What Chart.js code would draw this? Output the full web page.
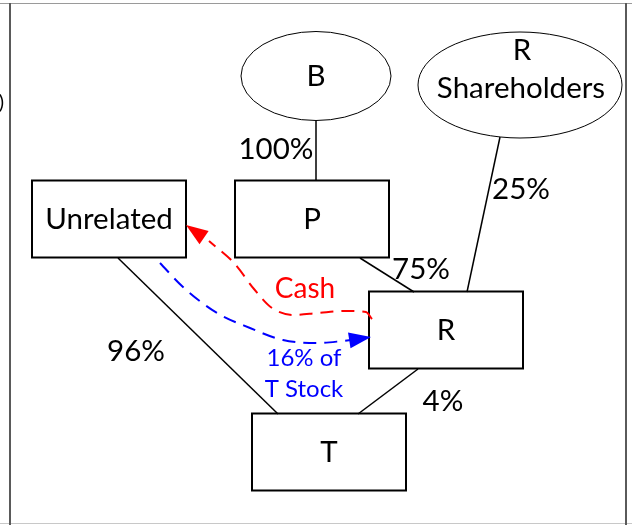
<!DOCTYPE html>
<html>
<head>
<meta charset="utf-8">
<script src="https://cdn.jsdelivr.net/npm/chart.js@4/dist/chart.umd.min.js"></script>
<style>
    html, body { margin: 0; padding: 0; background: #fff; }
    #wrap { width: 632px; height: 525px; }
</style>
</head>
<body>
<div id="wrap"><canvas id="diagram"></canvas></div>
<script>
// entities in the structure, centre of each shape (diagram units = pixels of the original)
const nodeNames = ['B', 'R\nShareholders', 'Unrelated', 'P', 'R', 'T'];
const nodeShape = ['ellipse', 'ellipse', 'box', 'box', 'box', 'box'];
const nodeX = [316, 520, 109, 312, 446, 329];
const nodeY = [76, 85, 219, 219, 330, 452];

// ownership lines: [x1, y1, x2, y2]
const ownLines = [
    [316, 121, 316, 181],   // B -> P
    [500, 137, 467, 292],   // R Shareholders -> R
    [360, 258, 414, 292],   // P -> R
    [118, 258, 278, 414],   // Unrelated -> T
    [418, 369, 358, 414]    // R -> T
];
const ownPct = ['100%', '25%', '75%', '96%', '4%'];
const pctX = [276, 521, 421, 136, 443];
const pctY = [159, 199, 279, 361, 411];

// exchange flows
const cashX = [372, 366, 345, 318, 294, 272, 254, 234, 209, 186];
const cashY = [319, 312, 311, 313, 315, 308, 289, 263, 241, 225];
const stockX = [160, 183, 217, 250, 283, 317, 343, 352, 371];
const stockY = [263, 287, 313, 328, 340, 343, 341, 340, 337];
const cashLabel = ['Cash'];
const stockLabel = ['16% of', 'T Stock'];

const FONT = 'Lato, "Open Sans", sans-serif';

function pts(xs, ys) {
    return xs.map((x, i) => ({ x: x, y: ys[i] }));
}

const datasets = [];
ownLines.forEach(l => {
    datasets.push({
        data: [{ x: l[0], y: l[1] }, { x: l[2], y: l[3] }],
        showLine: true,
        borderColor: '#000',
        borderWidth: 1.5,
        pointRadius: 0
    });
});
datasets.push({
    data: pts(cashX.slice(0, -1), cashY.slice(0, -1)),
    showLine: true,
    borderColor: '#ff0000',
    borderWidth: 2,
    borderDash: [13, 8],
    cubicInterpolationMode: 'monotone',
    pointRadius: 0,
    arrowTip: { x: cashX[cashX.length - 1], y: cashY[cashY.length - 1] }
});
datasets.push({
    data: pts(stockX.slice(0, -1), stockY.slice(0, -1)),
    showLine: true,
    borderColor: '#0000ff',
    borderWidth: 2,
    borderDash: [13, 8],
    cubicInterpolationMode: 'monotone',
    pointRadius: 0,
    arrowTip: { x: stockX[stockX.length - 1], y: stockY[stockY.length - 1] }
});

const diagramPlugin = {
    id: 'diagram',
    beforeDatasetsDraw(chart) {
        const ctx = chart.ctx;
        const sx = chart.scales.x, sy = chart.scales.y;
        const px = v => sx.getPixelForValue(v);
        const py = v => sy.getPixelForValue(v);
        ctx.save();

        // page frame
        ctx.lineWidth = 1;
        ctx.strokeStyle = '#9a9a9a';
        ctx.beginPath();
        ctx.moveTo(px(0), py(3.5)); ctx.lineTo(px(632), py(3.5));
        ctx.stroke();
        ctx.strokeStyle = '#c8c8c8';
        ctx.beginPath();
        ctx.moveTo(px(0), py(523.5)); ctx.lineTo(px(632), py(523.5));
        ctx.stroke();
        ctx.strokeStyle = '#5a5a5a';
        ctx.lineWidth = 2;
        ctx.beginPath();
        ctx.moveTo(px(10), py(3)); ctx.lineTo(px(10), py(525));
        ctx.moveTo(px(626), py(3)); ctx.lineTo(px(626), py(525));
        ctx.stroke();
        ctx.fillStyle = '#000';
        ctx.font = '20px ' + FONT;
        ctx.textAlign = 'right';
        ctx.fillText(')', px(4), py(109));

        // shapes
        nodeNames.forEach((name, i) => {
            const cx = px(nodeX[i]), cy = py(nodeY[i]);
            ctx.beginPath();
            if (nodeShape[i] === 'ellipse') {
                const rx = i === 0 ? 75 : 102, ry = i === 0 ? 44.5 : 53;
                ctx.ellipse(cx, cy, rx, ry, 0, 0, Math.PI * 2);
                ctx.lineWidth = 1;
            } else {
                ctx.rect(cx - 77, cy - 38.5, 154, 77);
                ctx.lineWidth = 2;
            }
            ctx.fillStyle = '#fff';
            ctx.fill();
            ctx.strokeStyle = '#000';
            ctx.stroke();
        });
        ctx.restore();
    },
    afterDatasetsDraw(chart) {
        const ctx = chart.ctx;
        const sx = chart.scales.x, sy = chart.scales.y;
        const px = v => sx.getPixelForValue(v);
        const py = v => sy.getPixelForValue(v);
        ctx.save();

        // arrow heads
        chart.data.datasets.forEach(ds => {
            if (!ds.arrowTip) return;
            const last = ds.data[ds.data.length - 1];
            const tx = px(ds.arrowTip.x), ty = py(ds.arrowTip.y);
            const bx = px(last.x), by = py(last.y);
            const a = Math.atan2(ty - by, tx - bx);
            const len = 22, half = 8;
            ctx.beginPath();
            ctx.moveTo(tx, ty);
            ctx.lineTo(tx - len * Math.cos(a) + half * Math.sin(a), ty - len * Math.sin(a) - half * Math.cos(a));
            ctx.lineTo(tx - len * Math.cos(a) - half * Math.sin(a), ty - len * Math.sin(a) + half * Math.cos(a));
            ctx.closePath();
            ctx.fillStyle = ds.borderColor;
            ctx.fill();
        });

        // node labels
        ctx.fillStyle = '#000';
        ctx.textAlign = 'center';
        ctx.textBaseline = 'alphabetic';
        ctx.font = '29.5px ' + FONT;
        nodeNames.forEach((name, i) => {
            const lines = name.split('\n');
            const cx = px(nodeX[i]);
            if (lines.length === 1) {
                ctx.fillText(name, cx, py(nodeY[i]) + 10);
            } else {
                ctx.fillText(lines[0], cx + 2, py(nodeY[i]) - 25);
                ctx.fillText(lines[1], cx + 1, py(nodeY[i]) + 13);
            }
        });

        // ownership percentages
        ownPct.forEach((t, i) => ctx.fillText(t, px(pctX[i]), py(pctY[i])));

        // flow labels
        ctx.font = '28px ' + FONT;
        ctx.fillStyle = '#ff0000';
        ctx.fillText(cashLabel[0], px(305), py(298));
        ctx.fillStyle = '#0000ff';
        ctx.font = '24px ' + FONT;
        ctx.fillText(stockLabel[0], px(304), py(366));
        ctx.fillText(stockLabel[1], px(304), py(397));
        ctx.restore();
    }
};

new Chart(document.getElementById('diagram'), {
    type: 'scatter',
    data: { datasets: datasets },
    options: {
        responsive: true,
        maintainAspectRatio: false,
        animation: false,
        layout: { padding: 0 },
        plugins: { legend: { display: false }, tooltip: { enabled: false } },
        scales: {
            x: { type: 'linear', min: 0, max: 632, display: false },
            y: { type: 'linear', min: 0, max: 525, reverse: true, display: false }
        }
    },
    plugins: [diagramPlugin]
});
</script>
</body>
</html>
